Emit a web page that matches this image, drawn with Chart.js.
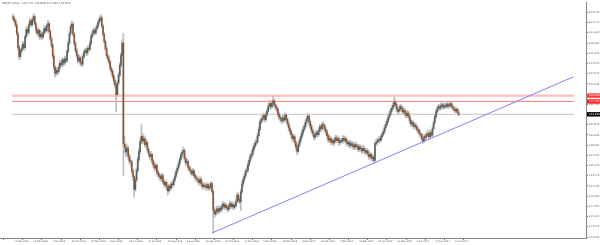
<!DOCTYPE html>
<html><head><meta charset="utf-8">
<script src="https://cdn.jsdelivr.net/npm/chart.js@4.4.1/dist/chart.umd.min.js"></script>
<style>html,body{margin:0;padding:0;background:#fff;overflow:hidden}canvas{display:block}</style>
</head><body><canvas id="c" width="600" height="245"></canvas>
<script>
const symbolTitle = 'GBPJPY,Daily  144.707 144.808 144.095 144.850';
const dateLabels = ['17 Feb 2016','10 Mar 2016','1 Apr 2016','25 Apr 2016','17 May 2016','8 Jun 2016','30 Jun 2016','22 Jul 2016','15 Aug 2016','6 Sep 2016','28 Sep 2016','20 Oct 2016','11 Nov 2016','5 Dec 2016','28 Dec 2016','19 Jan 2017','10 Feb 2017','7 Mar 2017','29 Mar 2017','20 Apr 2017','12 May 2017','5 Jun 2017','27 Jun 2017','19 Jul 2017'];
const dateLabelStep = 16;
const priceTicks = [121.535,123.475,125.415,127.355,129.295,131.235,133.175,135.115,137.055,138.995,140.935,142.875,144.815,146.755,148.695,150.635,152.575,154.515,156.455,158.395,160.335,162.275,164.215];

const closes = [
163.0,162.6,161.8,160.2,157.6,155.8,156.9,157.3,158.2,157.5,
159.6,161.0,160.4,161.8,162.6,161.9,162.8,163.4,162.1,160.9,
160.2,160.8,159.6,160.1,159.5,160.4,161.2,160.7,161.6,162.1,
160.6,159.2,158.0,155.9,153.8,152.6,153.2,152.9,153.8,154.6,
154.3,155.2,154.6,155.4,155.0,156.8,158.4,160.2,161.5,162.0,
160.1,158.3,157.0,156.1,155.0,155.6,154.7,154.4,155.8,156.6,
157.0,156.5,157.4,157.2,158.3,159.6,160.2,160.8,160.3,161.1,
161.6,162.4,162.9,163.2,161.6,160.1,158.7,157.3,156.0,155.4,
154.8,153.6,153.0,152.1,151.2,150.4,148.6,150.8,152.3,154.2,
156.1,158.4,139.2,138.6,137.7,138.4,136.9,136.0,135.8,134.1,
133.0,130.6,132.4,134.2,136.3,137.8,139.6,140.6,139.8,140.2,
139.1,139.5,138.2,137.4,136.8,137.2,135.9,135.2,134.6,135.1,
133.8,133.4,133.0,132.6,133.2,132.0,131.5,131.9,131.0,130.3,
131.2,130.8,131.6,131.5,132.4,133.1,133.9,134.6,135.4,136.3,
137.1,137.6,138.0,136.4,135.6,135.9,134.8,134.4,134.0,133.5,
134.1,133.2,132.8,132.6,132.3,131.9,132.5,131.6,131.1,131.4,
131.2,130.9,131.5,130.8,131.0,131.7,130.2,126.6,125.9,126.3,
126.9,126.4,127.0,126.7,127.3,127.8,127.2,127.6,127.1,126.8,
127.4,127.9,127.3,127.7,127.2,127.5,128.3,129.5,128.7,128.2,
130.1,131.6,132.4,133.1,134.0,134.2,135.3,136.1,136.9,137.3,
138.2,138.8,139.4,139.6,140.8,142.0,143.4,143.8,144.1,144.6,
143.9,144.8,145.5,146.4,146.9,146.3,147.0,147.4,146.6,146.2,
145.8,144.9,144.3,144.0,143.6,144.2,143.8,144.7,143.9,143.0,
142.2,141.6,141.0,140.2,140.6,139.5,138.6,137.8,139.0,139.8,
140.6,141.3,142.0,142.5,143.3,144.0,144.5,143.4,142.6,141.8,
141.2,140.5,140.9,141.4,141.0,141.8,142.5,142.1,142.9,142.7,
142.0,141.5,140.8,140.0,140.3,139.6,139.9,139.4,139.8,140.4,
139.9,140.2,139.5,139.7,139.8,140.3,139.9,140.2,139.6,139.2,
139.5,138.9,139.3,139.0,138.6,139.1,138.7,138.8,138.2,138.6,
138.3,137.9,138.4,138.0,137.6,137.9,137.3,136.8,137.2,136.5,
136.7,136.1,139.3,139.5,139.8,140.1,139.9,140.6,141.0,141.5,
142.3,142.9,143.5,144.2,144.8,145.5,146.0,146.5,147.2,146.8,
145.9,145.4,145.8,146.3,146.0,145.3,145.6,145.0,144.6,145.1,
144.5,143.6,143.0,143.3,142.6,142.8,142.4,142.0,141.8,141.2,
141.0,140.2,139.8,140.6,140.5,141.0,141.2,140.6,141.4,140.9,
142.1,143.3,144.4,145.3,145.9,146.3,146.0,146.5,146.6,146.2,
146.5,146.3,146.8,146.4,146.5,146.9,146.3,146.0,145.8,145.5,
145.8,145.1,144.85];

const opens = [
163.4,163.0,162.6,161.8,160.2,157.6,155.8,156.9,157.3,158.2,
157.5,159.6,161.0,160.4,161.8,162.6,161.9,162.8,163.4,162.1,
160.9,160.2,160.8,159.6,160.1,159.5,160.4,161.2,160.7,161.6,
162.1,160.6,159.2,158.0,155.9,153.8,152.6,153.2,152.9,153.8,
154.6,154.3,155.2,154.6,155.4,155.0,156.8,158.4,160.2,161.5,
162.0,160.1,158.3,157.0,156.1,155.0,155.6,154.7,154.4,155.8,
156.6,157.0,156.5,157.4,157.2,158.3,159.6,160.2,160.8,160.3,
161.1,161.6,162.4,162.9,163.2,161.6,160.1,158.7,157.3,156.0,
155.4,154.8,153.6,153.0,152.1,151.2,150.4,148.6,150.8,152.3,
154.2,156.1,158.4,139.2,138.6,137.7,138.4,136.9,136.0,135.8,
134.1,133.0,130.6,132.4,134.2,136.3,137.8,139.6,140.6,139.8,
140.2,139.1,139.5,138.2,137.4,136.8,137.2,135.9,135.2,134.6,
135.1,133.8,133.4,133.0,132.6,133.2,132.0,131.5,131.9,131.0,
130.3,131.2,130.8,131.6,131.5,132.4,133.1,133.9,134.6,135.4,
136.3,137.1,137.6,138.0,136.4,135.6,135.9,134.8,134.4,134.0,
133.5,134.1,133.2,132.8,132.6,132.3,131.9,132.5,131.6,131.1,
131.4,131.2,130.9,131.5,130.8,131.0,131.7,130.2,126.6,125.9,
126.3,126.9,126.4,127.0,126.7,127.3,127.8,127.2,127.6,127.1,
126.8,127.4,127.9,127.3,127.7,127.2,127.5,128.3,129.5,128.7,
128.2,130.1,131.6,132.4,133.1,134.0,134.2,135.3,136.1,136.9,
137.3,138.2,138.8,139.4,139.6,140.8,142.0,143.4,143.8,144.1,
144.6,143.9,144.8,145.5,146.4,146.9,146.3,147.0,147.4,146.6,
146.2,145.8,144.9,144.3,144.0,143.6,144.2,143.8,144.7,143.9,
143.0,142.2,141.6,141.0,140.2,140.6,139.5,138.6,137.8,139.0,
139.8,140.6,141.3,142.0,142.5,143.3,144.0,144.5,143.4,142.6,
141.8,141.2,140.5,140.9,141.4,141.0,141.8,142.5,142.1,142.9,
142.7,142.0,141.5,140.8,140.0,140.3,139.6,139.9,139.4,139.8,
140.4,139.9,140.2,139.5,139.7,139.8,140.3,139.9,140.2,139.6,
139.2,139.5,138.9,139.3,139.0,138.6,139.1,138.7,138.8,138.2,
138.6,138.3,137.9,138.4,138.0,137.6,137.9,137.3,136.8,137.2,
136.5,136.7,136.1,139.3,139.5,139.8,140.1,139.9,140.6,141.0,
141.5,142.3,142.9,143.5,144.2,144.8,145.5,146.0,146.5,147.2,
146.8,145.9,145.4,145.8,146.3,146.0,145.3,145.6,145.0,144.6,
145.1,144.5,143.6,143.0,143.3,142.6,142.8,142.4,142.0,141.8,
141.2,141.0,140.2,139.8,140.6,140.5,141.0,141.2,140.6,141.4,
140.9,142.1,143.3,144.4,145.3,145.9,146.3,146.0,146.5,146.6,
146.2,146.5,146.3,146.8,146.4,146.5,146.9,146.3,146.0,145.8,
145.5,145.8,145.1];

const highs = [
163.9,163.5,162.9,162.1,160.5,158.0,157.3,157.9,158.7,158.6,
160.0,161.5,161.4,162.2,163.1,162.9,163.2,164.0,163.7,162.4,
161.3,161.3,161.0,160.6,160.4,160.8,161.7,161.6,162.0,162.7,
162.4,160.9,159.6,158.3,156.2,154.1,153.8,153.7,154.3,155.1,
155.0,155.6,155.5,155.9,155.8,157.2,158.9,160.6,162.0,162.6,
162.3,160.4,158.7,157.4,156.5,156.1,155.9,155.2,156.3,157.0,
157.5,157.4,157.9,157.8,158.8,160.0,160.7,161.3,161.2,161.5,
162.1,162.8,163.4,163.8,163.5,161.9,160.4,159.0,157.7,156.4,
155.9,155.1,154.0,153.4,152.5,151.6,150.8,151.3,152.8,154.7,
156.6,159.0,160.2,140.6,139.3,139.0,138.8,137.4,136.6,136.1,
134.5,133.3,132.9,134.7,136.8,138.4,140.3,142.9,141.3,140.9,
140.6,140.1,139.8,138.6,137.8,137.8,137.5,136.3,135.7,135.6,
135.4,134.2,133.8,133.4,133.7,133.5,132.4,132.4,132.2,131.3,
131.6,131.6,132.0,132.1,132.8,133.6,134.4,135.0,135.9,136.7,
137.6,138.1,138.6,138.3,136.8,136.4,136.2,135.2,134.8,134.4,
134.6,134.4,133.6,133.2,133.0,132.7,133.0,132.8,132.0,131.9,
131.8,131.6,131.9,131.8,131.5,132.1,131.9,130.5,127.2,126.9,
127.4,127.3,127.5,127.4,127.8,128.3,128.1,128.1,127.9,127.5,
127.9,128.4,128.2,128.2,128.0,128.0,128.8,130.0,129.9,129.1,
130.6,132.1,132.9,133.6,134.5,134.8,135.8,136.6,137.4,137.9,
138.7,139.3,139.9,140.2,141.3,142.5,143.9,144.4,144.7,145.1,
145.0,145.3,146.0,146.9,147.5,147.3,147.5,148.4,147.8,147.0,
146.6,146.1,145.3,144.7,144.4,144.7,144.6,145.2,145.0,144.2,
143.4,142.6,142.0,141.3,141.1,140.9,139.9,139.0,139.5,140.3,
141.1,141.8,142.5,143.0,143.8,144.5,145.1,144.8,143.8,143.0,
142.2,141.6,141.4,141.9,141.8,142.3,143.0,142.9,143.4,143.4,
143.1,142.4,141.9,141.2,140.8,140.7,140.4,140.3,140.3,140.9,
140.8,140.7,140.5,140.2,140.3,140.8,140.7,140.7,140.5,140.0,
140.0,139.8,139.8,139.7,139.4,139.6,139.5,139.3,139.1,139.1,
139.0,138.7,138.9,138.8,138.4,138.4,138.2,137.7,137.7,137.5,
137.2,136.9,139.6,140.1,140.3,140.6,140.5,141.1,141.5,142.0,
142.8,143.4,144.0,144.7,145.3,146.0,146.5,147.0,148.1,147.6,
147.1,146.3,146.3,146.8,146.7,146.4,146.1,146.0,145.4,145.6,
145.4,144.8,144.0,143.8,143.6,143.3,143.2,142.8,142.4,142.1,
141.6,141.3,140.6,141.1,141.0,141.5,141.8,141.5,141.9,141.7,
142.6,143.8,144.9,145.8,146.4,146.8,146.7,147.0,147.1,146.9,
147.0,146.9,147.2,147.1,147.0,147.4,147.1,146.6,146.4,146.2,
146.2,146.0,145.4];

const lows = [
162.6,162.1,161.4,159.8,157.1,155.2,155.4,156.4,156.9,157.0,
157.2,159.3,159.9,160.1,161.5,161.4,161.6,162.5,161.8,160.4,
159.7,159.9,159.1,159.2,159.0,159.2,160.0,160.3,160.4,161.2,
160.2,158.8,157.5,155.4,153.3,151.9,152.2,152.4,152.6,153.4,
153.9,153.9,154.1,154.2,154.6,154.8,156.5,158.1,159.8,161.0,
159.7,157.9,156.6,155.6,154.6,154.7,154.2,153.9,154.1,155.4,
156.2,156.0,156.1,156.8,156.9,158.0,159.2,159.8,159.9,160.0,
160.7,161.3,162.0,162.5,161.2,159.7,158.3,156.9,155.5,154.9,
154.3,153.1,152.5,151.6,150.6,149.8,145.4,148.2,150.4,152.0,
153.8,155.8,133.2,137.4,136.8,137.0,136.3,135.4,135.1,133.6,
132.3,129.1,130.2,132.0,133.9,135.9,137.4,139.2,139.2,139.3,
138.6,138.7,137.7,136.9,136.2,136.4,135.4,134.7,134.1,134.2,
133.3,132.9,132.5,132.1,132.2,131.6,131.0,131.1,130.5,129.5,
130.0,130.4,130.5,131.0,131.2,132.0,132.8,133.5,134.3,135.0,
135.9,136.7,137.3,136.0,135.1,135.2,134.3,133.9,133.5,133.1,
133.2,132.8,132.3,132.1,131.8,131.4,131.6,131.1,130.6,130.7,
130.8,130.4,130.6,130.4,130.4,130.7,129.8,122.4,125.3,125.5,
125.9,125.9,126.0,126.2,126.3,127.0,126.8,126.8,126.7,126.3,
126.5,127.1,126.9,126.9,126.7,126.9,127.2,128.0,128.3,127.8,
126.6,129.8,131.2,132.0,132.7,133.5,133.9,134.9,135.7,136.4,
136.9,137.8,138.4,138.9,139.3,140.5,141.7,143.0,143.3,143.7,
143.4,143.5,144.4,145.2,146.0,145.8,145.9,146.6,146.1,145.7,
145.3,144.4,143.8,143.5,143.1,143.2,143.3,143.4,143.5,142.6,
141.7,141.1,140.5,139.7,139.8,139.0,138.1,137.2,137.5,138.6,
139.4,140.2,140.9,141.6,142.1,142.9,143.7,142.9,142.1,141.3,
140.7,140.0,140.1,140.5,140.5,140.7,141.4,141.6,141.8,142.2,
141.5,141.0,140.3,139.5,139.6,139.1,139.2,138.9,139.0,139.4,
139.5,139.5,139.0,139.1,139.3,139.4,139.4,139.5,139.1,138.7,
138.8,138.4,138.5,138.5,138.1,138.2,138.2,138.3,137.7,137.8,
137.9,137.4,137.5,137.5,137.1,137.2,136.8,136.3,136.4,136.0,
136.0,135.6,135.9,138.9,139.1,139.4,139.4,139.6,140.2,140.7,
141.2,141.9,142.6,143.2,143.9,144.5,145.2,145.7,146.2,146.3,
145.4,144.9,145.0,145.4,145.5,144.8,144.9,144.5,144.1,144.2,
144.0,143.1,142.5,142.6,142.1,142.2,141.9,141.5,141.3,140.7,
140.5,139.8,139.3,139.5,140.0,140.1,140.7,140.2,140.3,140.5,
140.6,141.8,143.0,144.0,145.0,145.5,145.6,145.7,146.1,145.8,
145.9,145.9,146.0,146.0,146.0,146.2,145.9,145.6,145.4,145.1,
145.2,144.7,144.5];

const levels = [148.4, 147.3];
const lastPrice = 144.85;
const trendline = [{x:166, y:122.3}, {x:468, y:152.0}];
const xRange = [-0.8, 468];
const yRange = [121.347, 166.095];

const upColor = '#56625f', downColor = '#8e5535', wickColor = '#bdbdbd';

const wickData = closes.map((c, i) => ({x: i, y: [lows[i], highs[i]]}));
const bodyData = closes.map((c, i) => ({x: i, y: [opens[i], c]}));
const hline = v => [{x: xRange[0], y: v}, {x: xRange[1], y: v}];

const overlay = {
  id: 'overlay',
  afterDraw(chart) {
    const {ctx, chartArea, scales: {y}} = chart;
    ctx.save();
    const boxes = [{v: levels[0], bg: '#ff3b3b'}, {v: levels[1], bg: '#ff2020'}, {v: lastPrice, bg: '#000000'}];
    boxes.forEach(b => {
      const py = y.getPixelForValue(b.v);
      ctx.fillStyle = b.bg;
      ctx.fillRect(chartArea.right + 1, py - 2.2, chart.width - chartArea.right, 4.4);
      ctx.fillStyle = '#ffffff';
      ctx.font = '2.6px "DejaVu Sans"';
      ctx.textBaseline = 'middle';
      ctx.fillText(b.v.toFixed(3), chartArea.right + 3, py);
    });
    ctx.fillStyle = '#666666';
    ctx.font = '2.8px "DejaVu Sans"';
    ctx.textBaseline = 'middle';
    ctx.fillText(symbolTitle, 2, 3.5);
    ctx.restore();
  }
};

new Chart(document.getElementById('c'), {
  type: 'bar',
  data: {
    datasets: [
      {type: 'line', data: hline(levels[0]), borderColor: 'rgba(255,110,110,0.45)', borderWidth: 2.2, pointRadius: 0, order: 5},
      {type: 'line', data: hline(levels[1]), borderColor: 'rgba(240,90,90,0.8)', borderWidth: 1, pointRadius: 0, order: 5},
      {type: 'line', data: hline(lastPrice), borderColor: '#c4c4c4', borderWidth: 1, pointRadius: 0, order: 5},
      {type: 'bar', data: wickData, backgroundColor: wickColor, barThickness: 1, grouped: false, order: 3},
      {type: 'bar', data: bodyData, barThickness: 1, grouped: false, minBarLength: 1, order: 2,
        backgroundColor: ctx => (closes[ctx.dataIndex] >= opens[ctx.dataIndex] ? upColor : downColor)},
      {type: 'line', data: trendline, borderColor: '#8080ff', borderWidth: 1, pointRadius: 0, order: 1}
    ]
  },
  options: {
    responsive: false,
    devicePixelRatio: 1,
    animation: false,
    events: [],
    layout: {padding: 0},
    plugins: {legend: {display: false}, tooltip: {enabled: false}, title: {display: false}},
    scales: {
      x: {
        type: 'linear', min: xRange[0], max: xRange[1],
        grid: {display: true, drawOnChartArea: false, drawTicks: true, tickLength: 2, color: '#777'},
        border: {display: true, color: '#888'},
        afterBuildTicks: s => { s.ticks = dateLabels.map((d, k) => ({value: k * dateLabelStep})); },
        afterFit: s => { s.height = 7; },
        ticks: {autoSkip: false, maxRotation: 0, align: 'start', padding: 0, labelOffset: 1, color: '#555',
          font: {size: 2.3, family: 'DejaVu Sans'},
          callback: v => dateLabels[Math.round(v / dateLabelStep)] ?? ''}
      },
      y: {
        position: 'right', min: yRange[0], max: yRange[1],
        grid: {display: true, drawOnChartArea: false, drawTicks: true, tickLength: 2, color: '#777'},
        border: {display: true, color: '#888'},
        afterBuildTicks: s => { s.ticks = priceTicks.map(v => ({value: v})); },
        afterFit: s => { s.width = 14; },
        ticks: {autoSkip: false, padding: 1, color: '#555', font: {size: 2.5, family: 'DejaVu Sans'},
          callback: v => v.toFixed(3)}
      }
    }
  },
  plugins: [overlay]
});
</script></body></html>
